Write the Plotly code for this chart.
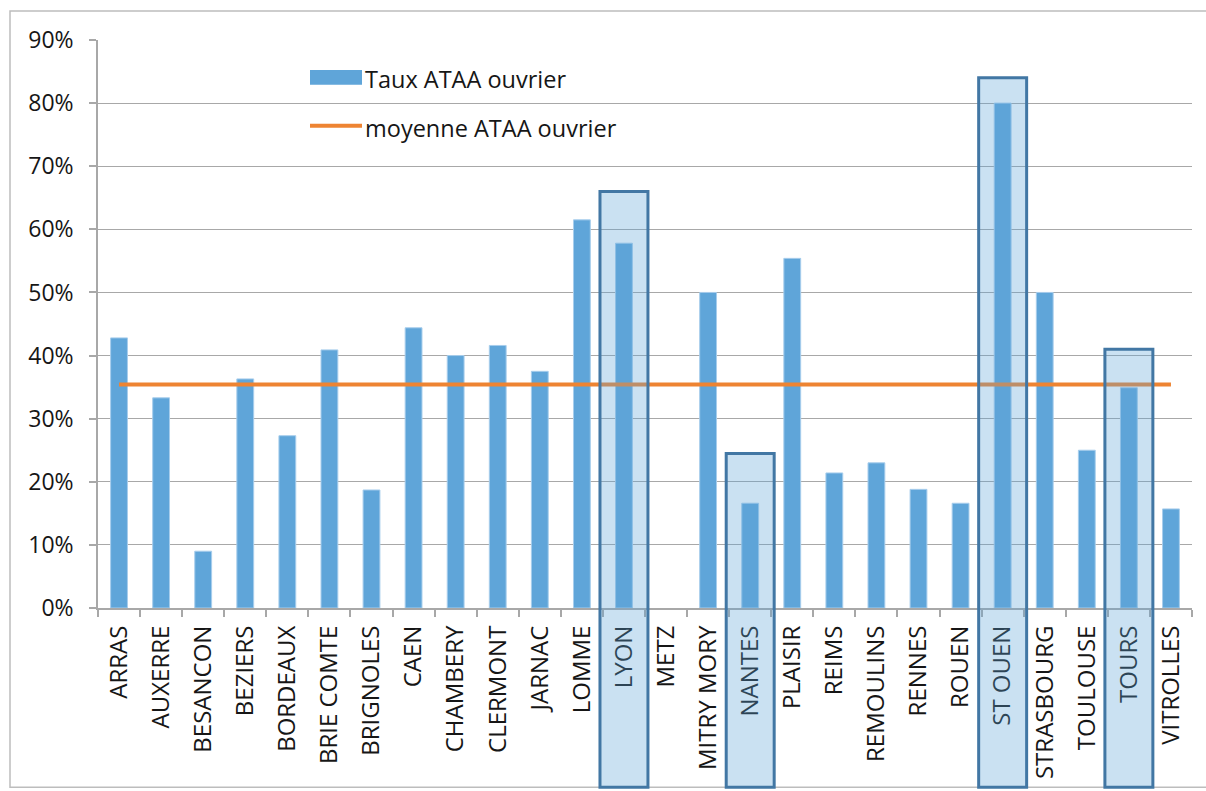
import plotly.graph_objects as go

# ---------------- data ----------------
cities = ["ARRAS", "AUXERRE", "BESANCON", "BEZIERS", "BORDEAUX", "BRIE COMTE",
          "BRIGNOLES", "CAEN", "CHAMBERY", "CLERMONT", "JARNAC", "LOMME", "LYON",
          "METZ", "MITRY MORY", "NANTES", "PLAISIR", "REIMS", "REMOULINS", "RENNES",
          "ROUEN", "ST OUEN", "STRASBOURG", "TOULOUSE", "TOURS", "VITROLLES"]
taux_ataa = [0.428, 0.333, 0.090, 0.363, 0.273, 0.409, 0.187, 0.444, 0.400, 0.416,
             0.375, 0.615, 0.578, None, 0.500, 0.166, 0.554, 0.214, 0.230, 0.188,
             0.166, 0.800, 0.500, 0.250, 0.349, 0.157]
moyenne_ataa = 0.354
highlight_cities = ["LYON", "NANTES", "ST OUEN", "TOURS"]
highlight_tops = [0.66, 0.245, 0.84, 0.41]

series_names = ["Taux ATAA ouvrier", "moyenne ATAA ouvrier"]

# ---------------- style ----------------
W, H = 1206, 791
ML, MR, MT, MB = 98, 14, 40, 181
PW, PH = W - ML - MR, H - MT - MB
YMAX = 0.9
FONT = "Open Sans"
TXT = "#161616"
GRID = "#A8A8A8"
BAR = "#5FA5D9"
ORANGE = "#EE8432"
BOX_LINE = "#4277A4"


def px_x(p):
    return (p - ML) / PW


def px_y(p):
    return (H - MB - p) / PH


fig = go.Figure()
fig.add_trace(go.Bar(
    x=cities, y=taux_ataa, name=series_names[0],
    marker=dict(color=BAR, line=dict(color="#A7CDEC", width=1)),
))
fig.add_trace(go.Scatter(
    x=cities, y=[moyenne_ataa] * len(cities), name=series_names[1],
    mode="lines", line=dict(color=ORANGE, width=4),
))

shapes = []
# outer chart border
shapes.append(dict(type="rect", xref="paper", yref="paper",
                   x0=px_x(10), x1=px_x(1212), y0=px_y(790), y1=px_y(11),
                   line=dict(color="#BDBDBD", width=1.5), fillcolor="rgba(0,0,0,0)",
                   layer="below"))
# highlight boxes
for c, top in zip(highlight_cities, highlight_tops):
    i = cities.index(c)
    shapes.append(dict(type="rect", xref="x", yref="paper",
                       x0=i - 0.57, x1=i + 0.57, y0=px_y(790), y1=top / YMAX,
                       line=dict(color=BOX_LINE, width=3),
                       fillcolor="rgba(95,165,217,0.33)", layer="above"))
# manual legend symbols
shapes.append(dict(type="rect", xref="paper", yref="paper",
                   x0=px_x(310), x1=px_x(362), y0=px_y(85), y1=px_y(70),
                   line=dict(width=0), fillcolor=BAR))
shapes.append(dict(type="line", xref="paper", yref="paper",
                   x0=px_x(310), x1=px_x(362), y0=px_y(126), y1=px_y(126),
                   line=dict(color=ORANGE, width=4)))

annotations = [
    dict(text=series_names[0], xref="paper", yref="paper", x=px_x(363), y=px_y(79),
         xanchor="left", yanchor="middle", showarrow=False,
         font=dict(family=FONT, size=23.5, color=TXT)),
    dict(text=series_names[1], xref="paper", yref="paper", x=px_x(363), y=px_y(128),
         xanchor="left", yanchor="middle", showarrow=False,
         font=dict(family=FONT, size=23.5, color=TXT)),
]

fig.update_layout(
    width=W, height=H,
    margin=dict(l=ML, r=MR, t=MT, b=MB, pad=0),
    paper_bgcolor="white", plot_bgcolor="white",
    showlegend=False,
    bargap=0.6,
    font=dict(family=FONT, size=24, color=TXT),
    shapes=shapes, annotations=annotations,
    xaxis=dict(
        type="category", range=[-0.5, len(cities) - 0.5],
        tickangle=-90, tickson="boundaries",
        ticks="outside", ticklen=7, tickcolor=GRID, tickwidth=1.5,
        showline=True, linecolor=GRID, linewidth=2,
        showgrid=False, ticklabelstandoff=6,
        tickfont=dict(family=FONT, size=24, color=TXT),
    ),
    yaxis=dict(
        range=[0, YMAX], dtick=0.1, tickformat=".0%",
        ticks="outside", ticklen=7, tickcolor=GRID, tickwidth=1.5,
        showline=True, linecolor=GRID, linewidth=1.5,
        showgrid=True, gridcolor=GRID, gridwidth=1.2, zeroline=False,
        ticklabelstandoff=11,
        tickfont=dict(family=FONT, size=23, color=TXT),
    ),
)

fig.write_html("out.html", config={"displayModeBar": False},
               post_script="document.body.style.margin='0';document.body.style.overflow='hidden';")
